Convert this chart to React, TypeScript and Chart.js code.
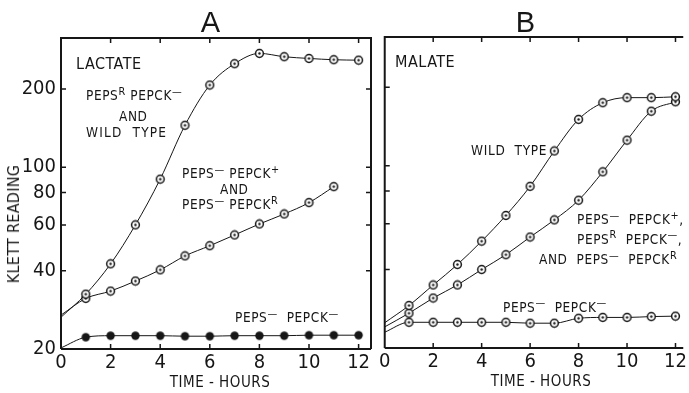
import React, { useEffect, useRef } from "react";
import { Chart, registerables } from "chart.js";

Chart.register(...registerables);

// ---------- data ----------
const hours = [0, 1, 2, 3, 4, 5, 6, 7, 8, 9, 10, 11, 12];
const xTicks = [0, 2, 4, 6, 8, 10, 12];
const yTicks = [20, 40, 60, 80, 100, 200];

// Panel A - lactate
const lactateWildAndPepsR = [26.5, 32.5, 42.5, 60, 90, 145, 207, 250, 274, 266, 262, 259, 258];
const lactatePepckPlusAndR = [27, 31.3, 33.4, 36.5, 40.3, 45.6, 49.9, 54.9, 60.5, 66.1, 73.1, 84.2];
const lactateDoubleMinus = [20.2, 22.2, 22.5, 22.5, 22.5, 22.4, 22.4, 22.5, 22.5, 22.5, 22.6, 22.6, 22.6];

// Panel B - malate
const malateWild = [25, 29.1, 34.9, 41.8, 51.4, 64.5, 83.4, 114, 150.7, 174.6, 182.6, 182.6, 184];
const malateMutants = [24.1, 27.2, 31.1, 34.9, 40, 45.6, 53.3, 62, 73.8, 94.8, 125.4, 162, 176];
const malateDoubleMinus = [23, 25.1, 25.1, 25.1, 25.1, 25.1, 24.9, 24.9, 26, 26.2, 26.2, 26.4, 26.5];

// ---------- styles ----------
const NARROW = "'Liberation Sans Narrow', 'DejaVu Sans Condensed', 'Liberation Sans', sans-serif";
const SANS = "'Liberation Sans', 'DejaVu Sans', sans-serif";
const INK = "#161616";

function ringDot(): HTMLCanvasElement {
  const c = document.createElement("canvas");
  c.width = 11;
  c.height = 11;
  const g = c.getContext("2d")!;
  g.beginPath();
  g.arc(5.5, 5.5, 3.9, 0, Math.PI * 2);
  g.fillStyle = "#fff";
  g.fill();
  g.lineWidth = 1.5;
  g.strokeStyle = INK;
  g.stroke();
  g.beginPath();
  g.arc(5.5, 5.5, 1.2, 0, Math.PI * 2);
  g.fillStyle = INK;
  g.fill();
  return c;
}

function solidDot(): HTMLCanvasElement {
  const c = document.createElement("canvas");
  c.width = 11;
  c.height = 11;
  const g = c.getContext("2d")!;
  g.beginPath();
  g.arc(5.5, 5.5, 4.2, 0, Math.PI * 2);
  g.fillStyle = INK;
  g.fill();
  return c;
}

function series(values: number[], img: HTMLCanvasElement) {
  return {
    data: values.map((v, i) => ({ x: hours[i], y: v })),
    borderColor: INK,
    borderWidth: 1,
    pointStyle: img,
    pointRadius: (ctx: any) => (ctx.dataIndex === 0 ? 0 : 4),
    cubicInterpolationMode: "monotone" as const,
    fill: false,
  };
}

function framePlugin(drawRight: boolean) {
  return {
    id: "frame",
    afterDraw(chart: any) {
      const { ctx, chartArea: a, scales } = chart;
      const L = 5;
      ctx.save();
      ctx.strokeStyle = INK;
      ctx.lineWidth = 2;
      ctx.beginPath();
      ctx.moveTo(a.left, a.bottom);
      ctx.lineTo(a.left, a.top);
      ctx.lineTo(a.right, a.top);
      if (drawRight) ctx.lineTo(a.right, a.bottom);
      ctx.moveTo(a.left, a.bottom);
      ctx.lineTo(a.right, a.bottom);
      ctx.stroke();
      ctx.lineWidth = 1.5;
      ctx.beginPath();
      for (const v of xTicks) {
        if (v === 0) continue;
        const px = scales.x.getPixelForValue(v);
        ctx.moveTo(px, a.top);
        ctx.lineTo(px, a.top + L);
        ctx.moveTo(px, a.bottom);
        ctx.lineTo(px, a.bottom - L);
      }
      for (const v of yTicks) {
        if (v === 20) continue;
        const py = scales.y.getPixelForValue(v);
        ctx.moveTo(a.left, py);
        ctx.lineTo(a.left + L, py);
        if (drawRight) {
          ctx.moveTo(a.right, py);
          ctx.lineTo(a.right - L, py);
        }
      }
      ctx.stroke();
      ctx.restore();
    },
  };
}

function makeOptions(p: {
  top: number;
  right: number;
  yWidth: number;
  xHeight: number;
  xMax: number;
  yMax: number;
  showY: boolean;
}) {
  return {
    animation: false as const,
    responsive: false,
    maintainAspectRatio: false,
    layout: { padding: { top: p.top, right: p.right, left: 0, bottom: 0 } },
    plugins: { legend: { display: false }, tooltip: { enabled: false }, title: { display: false } },
    scales: {
      x: {
        type: "linear" as const,
        min: 0,
        max: p.xMax,
        afterBuildTicks: (s: any) => {
          s.ticks = xTicks.map((v) => ({ value: v }));
        },
        afterFit: (s: any) => {
          s.height = p.xHeight;
        },
        ticks: {
          padding: 2,
          color: INK,
          font: { family: NARROW, size: 20 },
          maxRotation: 0,
          autoSkip: false,
          callback: (v: any) => String(v),
        },
        grid: { display: false, drawTicks: false },
        border: { display: false },
      },
      y: {
        type: "logarithmic" as const,
        min: 20,
        max: p.yMax,
        afterBuildTicks: (s: any) => {
          s.ticks = yTicks.map((v) => ({ value: v }));
        },
        afterFit: (s: any) => {
          s.width = p.yWidth;
        },
        ticks: {
          display: p.showY,
          padding: 5,
          color: INK,
          font: { family: NARROW, size: 20 },
          autoSkip: false,
          callback: (v: any) => String(v),
        },
        grid: { display: false, drawTicks: false },
        border: { display: false },
      },
    },
  };
}

function Panel(props: { left: number; width: number; build: () => any }) {
  const ref = useRef<HTMLCanvasElement>(null);
  useEffect(() => {
    const chart = new Chart(ref.current!, props.build());
    return () => chart.destroy();
  }, []);
  return (
    <canvas
      ref={ref}
      width={props.width}
      height={393}
      style={{ position: "absolute", left: props.left, top: 0, width: props.width, height: 393 }}
    />
  );
}

const supStyle: React.CSSProperties = {
  fontSize: "0.8em",
  position: "relative",
  top: "-0.5em",
  lineHeight: 0,
};

function T(props: {
  x: number;
  y: number;
  size?: number;
  ls?: number;
  font?: string;
  children: React.ReactNode;
  anchor?: "left" | "center";
}) {
  const size = props.size ?? 13.5;
  return (
    <div
      style={{
        position: "absolute",
        left: props.x,
        top: props.y,
        transform: props.anchor === "center" ? "translate(-50%, -50%)" : "translate(0, -50%)",
        fontFamily: props.font ?? NARROW,
        fontSize: size,
        letterSpacing: props.ls ?? 0.6,
        lineHeight: 1,
        whiteSpace: "pre",
        color: INK,
      }}
    >
      {props.children}
    </div>
  );
}

const S = (s: string) => <span style={supStyle}>{s}</span>;

export default function App() {
  const buildA = () => {
    const ring = ringDot();
    const solid = solidDot();
    return {
      type: "line",
      data: {
        datasets: [
          series(lactateWildAndPepsR, ring),
          series(lactatePepckPlusAndR, ring),
          series(lactateDoubleMinus, solid),
        ],
      },
      options: makeOptions({ top: 38, right: 4, yWidth: 61, xHeight: 44, xMax: 12.5, yMax: 314, showY: true }),
      plugins: [framePlugin(true)],
    };
  };
  const buildB = () => {
    const ring = ringDot();
    return {
      type: "line",
      data: {
        datasets: [
          series(malateWild, ring),
          series(malateMutants, ring),
          series(malateDoubleMinus, ring),
        ],
      },
      options: makeOptions({ top: 37, right: 0, yWidth: 4, xHeight: 45, xMax: 12.32, yMax: 312, showY: false }),
      plugins: [framePlugin(false)],
    };
  };

  return (
    <div
      style={{
        position: "fixed",
        left: 0,
        top: 0,
        width: 689,
        height: 393,
        background: "#fff",
        overflow: "hidden",
      }}
    >
      <Panel left={0} width={376} build={buildA} />
      <Panel left={377} width={312} build={buildB} />

      {/* titles */}
      <T x={210.5} y={22} size={29} ls={0} font={SANS} anchor="center">A</T>
      <T x={525.5} y={22} size={29} ls={0} font={SANS} anchor="center">B</T>

      {/* axis titles */}
      <div
        style={{
          position: "absolute",
          left: 14,
          top: 224,
          transform: "translate(-50%, -50%) rotate(-90deg)",
          fontFamily: NARROW,
          fontSize: 16,
          letterSpacing: 0.3,
          lineHeight: 1,
          whiteSpace: "pre",
          color: INK,
        }}
      >
        KLETT READING
      </div>
      <T x={220} y={382} size={15} ls={0.5} anchor="center">TIME - HOURS</T>
      <T x={541} y={381} size={15} ls={0.5} anchor="center">TIME - HOURS</T>

      {/* panel A annotations */}
      <T x={76} y={64} size={16} ls={0.5}>LACTATE</T>
      <T x={86} y={96}>PEPS{S("R")} PEPCK{S("—")}</T>
      <T x={119} y={116.5}>AND</T>
      <T x={86} y={132.5} ls={1.2}>WILD  TYPE</T>
      <T x={182} y={174}>PEPS{S("—")} PEPCK{S("+")}</T>
      <T x={220} y={190}>AND</T>
      <T x={182} y={205}>PEPS{S("—")} PEPCK{S("R")}</T>
      <T x={235} y={318}>PEPS{S("—")}  PEPCK{S("—")}</T>

      {/* panel B annotations */}
      <T x={395} y={62} size={16} ls={0.5}>MALATE</T>
      <T x={471} y={151} ls={0.7}>WILD  TYPE</T>
      <T x={577} y={220}>PEPS{S("—")}  PEPCK{S("+")},</T>
      <T x={577} y={239.5}>PEPS{S("R")}  PEPCK{S("—")},</T>
      <T x={539} y={260}>AND  PEPS{S("—")}  PEPCK{S("R")}</T>
      <T x={503} y={307.5}>PEPS{S("—")}  PEPCK{S("—")}</T>
    </div>
  );
}
